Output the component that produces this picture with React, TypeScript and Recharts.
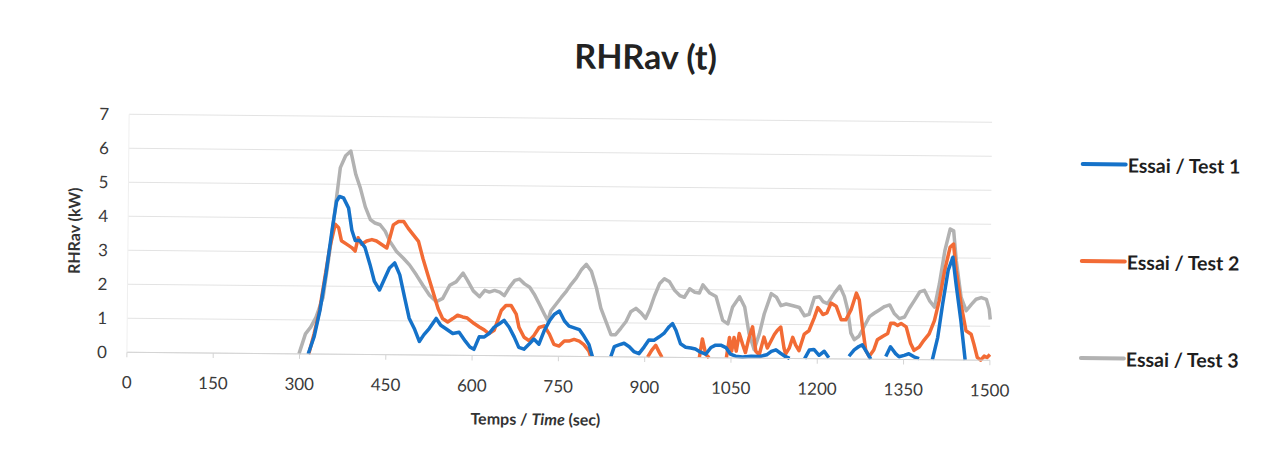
import React from 'react';
import { LineChart, Line, XAxis, YAxis, CartesianGrid, Legend } from 'recharts';

type Pt = [number, number | null];

const chartTitle = 'RHRav (t)';
const xTicks = [0, 150, 300, 450, 600, 750, 900, 1050, 1200, 1350, 1500];
const yTicks = [0, 1, 2, 3, 4, 5, 6, 7];
const seriesNames = ['Essai / Test 1', 'Essai / Test 2', 'Essai / Test 3'];
const seriesColors = ['#1572C9', '#F26B35', '#B2B2B2'];

const test1: Pt[] = [
  [315, 0], [325, 0.5], [335, 1.3], [345, 2.4], [355, 3.7], [362, 4.5], [367, 4.64], [374, 4.6], [383, 4.3],
  [389, 3.65], [395, 3.35], [403, 3.35], [412, 3.15], [421, 2.65], [429, 2.15], [438, 1.9], [447, 2.25],
  [455, 2.55], [464, 2.7], [473, 2.35], [482, 1.67], [490, 1.08], [499, 0.78], [508, 0.4], [516, 0.6],
  [525, 0.78], [537, 1.08], [545, 0.88], [554, 0.78], [566, 0.64], [577, 0.68], [588, 0.42], [596, 0.25],
  [603, 0.18], [612, 0.55], [621, 0.55], [629, 0.65], [638, 0.84], [647, 0.94], [655, 1.04], [664, 0.84],
  [673, 0.55], [681, 0.25], [690, 0.2], [699, 0.35], [707, 0.5], [716, 0.35], [725, 0.75], [734, 1.04],
  [742, 1.23], [751, 1.33], [760, 1.04], [768, 0.89], [777, 0.84], [786, 0.79], [794, 0.6], [803, 0.35],
  [809, 0], [825, null], [841, 0], [847, 0.3], [855, 0.35], [864, 0.4], [873, 0.3], [881, 0.16], [890, 0.1],
  [899, 0.3], [907, 0.5], [916, 0.5], [925, 0.6], [933, 0.7], [942, 0.9], [948, 0.99], [954, 0.79], [962, 0.4],
  [971, 0.3], [980, 0.28], [988, 0.25], [997, 0.16], [1006, 0.1], [1015, 0.3], [1023, 0.37], [1032, 0.37],
  [1041, 0.3], [1049, 0.11], [1058, 0.05], [1070, 0.03], [1085, 0.05], [1100, 0.05], [1112, 0.1], [1120, 0.2],
  [1128, 0.25], [1136, 0.15], [1145, 0.05], [1152, 0], [1165, null], [1178, 0], [1186, 0.25], [1194, 0.27],
  [1203, 0.1], [1212, 0.22], [1220, 0.03], [1238, null],
  [1255, 0.08], [1264, 0.27], [1272, 0.37], [1278, 0.42], [1287, 0.17], [1293, 0], [1306, null], [1319, 0.08],
  [1327, 0.37], [1336, 0.17], [1342, 0.08], [1351, 0.12], [1359, 0.17], [1368, 0.08], [1377, 0.03],
  [1390, null], [1400, 0], [1409, 0.66], [1417, 1.64], [1426, 2.63], [1434, 3.02], [1440, 2.23], [1449, 1.15],
  [1457, 0],
];

const test2: Pt[] = [
  [316, 0], [325, 0.59], [334, 1.27], [342, 2.16], [351, 3.14], [360, 3.82], [366, 3.72], [371, 3.34],
  [380, 3.24], [389, 3.14], [395, 3.04], [400, 3.43], [406, 3.24], [415, 3.34], [424, 3.38], [432, 3.34],
  [441, 3.24], [450, 3.14], [455, 3.43], [461, 3.82], [470, 3.92], [479, 3.92], [487, 3.72], [496, 3.53],
  [505, 3.34], [513, 2.84], [522, 2.35], [531, 1.86], [540, 1.37], [548, 1.08], [557, 0.98], [566, 1.08],
  [574, 1.18], [583, 1.13], [591, 1.1], [603, 0.94], [612, 0.84], [621, 0.75], [629, 0.65], [638, 0.75],
  [644, 1.04], [650, 1.33], [658, 1.48], [667, 1.48], [676, 1.23], [681, 0.84], [690, 0.55], [699, 0.45],
  [707, 0.6], [716, 0.84], [725, 0.89], [734, 0.65], [742, 0.35], [751, 0.3], [760, 0.45], [768, 0.45],
  [777, 0.5], [786, 0.45], [794, 0.35], [803, 0.16], [806, 0], [856, null], [905, 0], [912, 0.2], [919, 0.35],
  [925, 0.15], [930, 0], [963, null], [995, 0], [1000, 0.55], [1006, 0.1], [1012, 0], [1029, null], [1042, 0],
  [1047, 0.6], [1051, 0.2], [1055, 0.6], [1059, 0.2], [1064, 0.72], [1070, 0.4], [1075, 0.16], [1081, 0.6],
  [1087, 0.92], [1093, 0.2], [1099, 0.1], [1107, 0.62], [1113, 0.3], [1119, 0.5], [1125, 0.7], [1130, 0.82],
  [1136, 0.92], [1142, 0.3], [1145, 0.13], [1151, 0.3], [1157, 0.62], [1162, 0.4], [1168, 0.23], [1177, 0.72],
  [1185, 0.82], [1194, 1.2], [1200, 1.5], [1205, 1.4], [1209, 1.3], [1216, 1.35], [1223, 1.64], [1232, 1.55],
  [1241, 1.15], [1249, 1.15], [1258, 1.45],
  [1267, 1.94], [1272, 1.74], [1278, 0.96], [1284, 0.27], [1290, 0.08], [1298, 0.27], [1304, 0.57],
  [1313, 0.67], [1322, 0.76], [1327, 1.06], [1333, 1.06], [1339, 1.0], [1345, 1.06], [1354, 0.96],
  [1362, 0.47], [1368, 0.27], [1377, 0.37], [1385, 0.57], [1394, 0.76], [1403, 1.15], [1411, 1.74],
  [1420, 2.63], [1429, 3.31], [1435, 3.41], [1440, 2.63], [1449, 1.64], [1458, 0.86], [1467, 0.76],
  [1472, 0.47], [1478, 0.08], [1484, 0], [1490, 0.12], [1495, 0.08], [1500, 0.17],
];

const test3: Pt[] = [
  [299, 0], [310, 0.59], [319, 0.79], [328, 1.08], [340, 1.67], [351, 3.04], [360, 4.34], [368, 5.49],
  [377, 5.84], [386, 5.98], [395, 5.29], [403, 4.9], [412, 4.34], [421, 3.97], [429, 3.87], [438, 3.82],
  [447, 3.63], [455, 3.34], [467, 3.04], [479, 2.84], [490, 2.64], [502, 2.35], [513, 2.06], [525, 1.76],
  [537, 1.57], [548, 1.67], [560, 2.06], [571, 2.16], [583, 2.42], [591, 2.2], [601, 1.9], [612, 1.73],
  [621, 1.92], [629, 1.87], [638, 1.92], [647, 1.87], [655, 1.77], [664, 2.02], [673, 2.22], [681, 2.26],
  [690, 2.12], [699, 2.02], [707, 1.82], [716, 1.53], [725, 1.23], [731, 1.04], [736, 1.33], [745, 1.53],
  [754, 1.73], [763, 1.92], [771, 2.12], [780, 2.31], [789, 2.56], [797, 2.71], [806, 2.51], [815, 2.02],
  [823, 1.43], [832, 1.04], [841, 0.65], [849, 0.65], [858, 0.84], [867, 1.04], [875, 1.33], [884, 1.43],
  [893, 1.3], [901, 1.14], [908, 1.4], [916, 1.8], [925, 2.17], [933, 2.31], [942, 2.22], [951, 1.97],
  [960, 1.82], [968, 1.77], [977, 2.02], [986, 1.92], [994, 1.9], [1000, 2.14], [1012, 1.9], [1023, 1.8],
  [1035, 1.1], [1044, 1.0], [1052, 1.5], [1064, 1.8], [1073, 1.5], [1081, 0.72], [1090, 0.25], [1099, 0.72],
  [1107, 1.3], [1119, 1.9], [1128, 1.8], [1136, 1.55], [1145, 1.6], [1157, 1.55], [1168, 1.5], [1177, 1.26],
  [1185, 1.3], [1194, 1.8], [1203, 1.82], [1209, 1.68], [1217, 1.62], [1229, 1.94], [1238, 2.14], [1246, 1.84],
  [1252, 1.45],
  [1258, 0.76], [1264, 0.57], [1272, 0.67], [1281, 0.96], [1290, 1.25], [1298, 1.35], [1307, 1.45],
  [1316, 1.55], [1325, 1.6], [1333, 1.35], [1342, 1.2], [1351, 1.25], [1359, 1.5], [1368, 1.74],
  [1377, 1.99], [1385, 2.04], [1394, 1.74], [1403, 1.55], [1411, 2.23], [1420, 3.21], [1429, 3.85],
  [1435, 3.8], [1440, 2.92], [1449, 1.84], [1458, 1.45], [1467, 1.64], [1475, 1.79], [1484, 1.84],
  [1493, 1.79], [1498, 1.5], [1500, 1.2],
];

const toRows = (pts: Pt[]) => pts.map(([t, v]) => ({ t, v }));
const rows1 = toRows(test1);
const rows2 = toRows(test2);
const rows3 = toRows(test3);

const FONT = 'Lato, "Open Sans", sans-serif';

const LegendBox = () => (
  <div style={{ fontFamily: FONT }}>
    {seriesNames.map((name, i) => (
      <div
        key={name}
        style={{ display: 'flex', alignItems: 'center', height: 24, marginBottom: i < 2 ? 73 : 0 }}
      >
        <div style={{ width: 47, height: 4, borderRadius: 2, background: seriesColors[i] }} />
        <span style={{ fontSize: 19.5, fontWeight: 700, color: '#1e1e1e', whiteSpace: 'nowrap' }}>{name}</span>
      </div>
    ))}
  </div>
);

export default function App() {
  const tickStyle = { fill: '#3a3a3a', fontSize: 17, fontFamily: FONT };
  return (
    <div style={{ width: 1259, height: 460, transform: 'rotate(0.53deg)', transformOrigin: '50% 50%', background: '#fff' }}>
      <LineChart width={1259} height={460} margin={{ top: 111, right: 276, bottom: 51, left: 60 }}>
        <CartesianGrid vertical={false} stroke="#e3e3e3" />
        <XAxis
          dataKey="t"
          type="number"
          domain={[0, 1500]}
          ticks={xTicks}
          allowDuplicatedCategory={false}
          height={60}
          axisLine={{ stroke: '#d4d4d4' }}
          tickLine={{ stroke: '#d4d4d4' }}
          tickSize={5}
          tickMargin={19}
          tick={tickStyle}
          interval={0}
        />
        <YAxis
          type="number"
          domain={[0, 7]}
          ticks={yTicks}
          width={60}
          axisLine={{ stroke: '#efefef' }}
          tickLine={false}
          tickSize={0}
          tickMargin={20}
          tick={tickStyle}
          interval={0}
        />
        <Legend
          layout="vertical"
          align="center"
          verticalAlign="middle"
          content={() => <LegendBox />}
          wrapperStyle={{ position: 'absolute', left: 1072, top: 140, width: 200 }}
        />
        <Line data={rows3} dataKey="v" name={seriesNames[2]} type="linear" stroke={seriesColors[2]} strokeWidth={3.5}
          dot={false} activeDot={false} isAnimationActive={false} strokeLinejoin="round" />
        <Line data={rows2} dataKey="v" name={seriesNames[1]} type="linear" stroke={seriesColors[1]} strokeWidth={3.5}
          dot={false} activeDot={false} isAnimationActive={false} strokeLinejoin="round" />
        <Line data={rows1} dataKey="v" name={seriesNames[0]} type="linear" stroke={seriesColors[0]} strokeWidth={3.5}
          dot={false} activeDot={false} isAnimationActive={false} strokeLinejoin="round" />
        <text x={636} y={61} textAnchor="middle" fontFamily={FONT} fontWeight={700} fontSize={34} fill="#222">
          {chartTitle}
        </text>
        <text x={529} y={418} textAnchor="middle" fontFamily={FONT} fontWeight={700} fontSize={16} fill="#333">
          Temps / <tspan fontStyle="italic">Time</tspan> (sec)
        </text>
        <text transform="translate(72,228) rotate(-90)" textAnchor="middle" fontFamily={FONT} fontWeight={700} fontSize={16} fill="#333">
          RHRav (kW)
        </text>
      </LineChart>
    </div>
  );
}
